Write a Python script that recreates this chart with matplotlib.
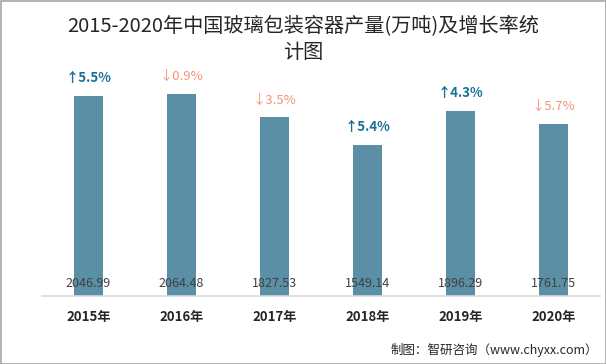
import matplotlib
matplotlib.use("Agg")
import matplotlib.pyplot as plt
from matplotlib.patches import Rectangle

plt.rcParams['font.family'] = ['Noto Sans CJK SC', 'DejaVu Sans']

years = ["2015年", "2016年", "2017年", "2018年", "2019年", "2020年"]
output = [2046.99, 2064.48, 1827.53, 1549.14, 1896.29, 1761.75]
growth = [5.5, -0.9, -3.5, 5.4, 4.3, -5.7]

W, H = 606, 364
fig = plt.figure(figsize=(W/100, H/100), dpi=100)
fig.patches.append(Rectangle((0.5/W, 0.5/H), 1-1/W, 1-1/H, transform=fig.transFigure,
                             fill=False, edgecolor="#a6a6a6", linewidth=1.2))

left, right = 42/W, 600/W
bottom, top = 1-296/H, 1-60/H
ax = fig.add_axes([left, bottom, right-left, top-bottom])
x = list(range(len(years)))
ax.bar(x, output, width=0.31, color="#5b8fa6", zorder=2)
ax.set_xlim(-0.5, len(years)-0.5)
ax.set_ylim(0, 2415)
for s in ["top", "right", "left"]:
    ax.spines[s].set_visible(False)
ax.spines["bottom"].set_color("#d9d9d9")
ax.spines["bottom"].set_linewidth(1.2)
ax.set_yticks([])
ax.set_xticks(x)
ax.set_xticklabels(years, fontsize=9.5, fontweight="bold", color="#262626")
ax.tick_params(axis="x", length=0, pad=10)

for xi, v, g in zip(x, output, growth):
    ax.annotate(f"{v:.2f}", (xi, 0), xytext=(0, 4), textcoords="offset points",
                ha="center", va="bottom", fontsize=9, color="#404040", zorder=3)
    if g >= 0:
        txt, col, fw = f"↑{g:.1f}%", "#1a6f96", "bold"
    else:
        txt, col, fw = f"↓{abs(g):.1f}%", "#f0967a", "normal"
    ax.annotate(txt, (xi, v), xytext=(0, 8), textcoords="offset points",
                ha="center", va="bottom", fontsize=9.5, color=col, fontweight=fw)

fig.text(303/W, 1-26/H, "2015-2020年中国玻璃包装容器产量(万吨)及增长率统", ha="center", va="center",
         fontsize=14.5, color="#262626", fontweight="medium")
fig.text(303/W, 1-53/H, "计图", ha="center", va="center", fontsize=14.5, color="#262626",
         fontweight="medium")
fig.text(598/W, 1-350/H, "制图：智研咨询（www.chyxx.com）", ha="right", va="center",
         fontsize=9, color="#262626")

fig.savefig("out.png", dpi=100)
